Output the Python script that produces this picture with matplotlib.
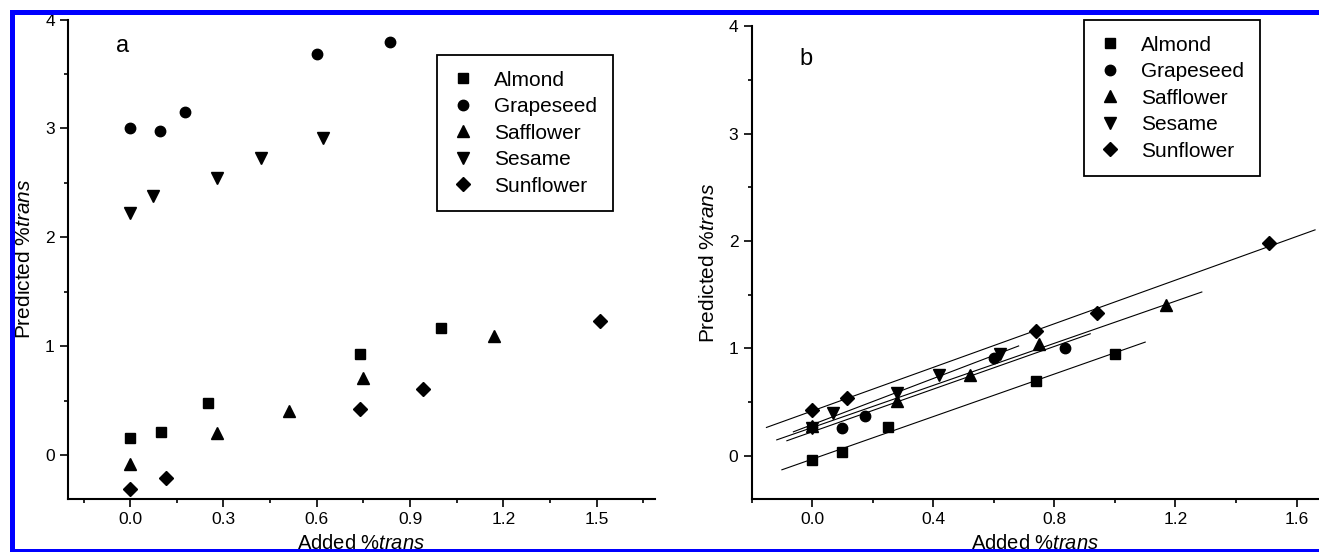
import numpy as np
import matplotlib
matplotlib.use("Agg")
import matplotlib.pyplot as plt
from matplotlib.ticker import MultipleLocator
from matplotlib.patches import Rectangle

plt.rcParams['font.family'] = ['Liberation Sans', 'DejaVu Sans']
plt.rcParams['mathtext.fontset'] = 'custom'
plt.rcParams['mathtext.rm'] = 'Liberation Sans'
plt.rcParams['mathtext.it'] = 'Liberation Sans:italic'

oils = ['Almond', 'Grapeseed', 'Safflower', 'Sesame', 'Sunflower']
markers = ['s', 'o', '^', 'v', 'D']
msizes = [6.5, 7.5, 8.5, 8.5, 7.5]

# panel a: before correction
added_a = {
    'Almond': [0.0, 0.10, 0.25, 0.74, 1.00],
    'Grapeseed': [0.0, 0.095, 0.176, 0.60, 0.835],
    'Safflower': [0.0, 0.28, 0.51, 0.75, 1.17],
    'Sesame': [0.0, 0.072, 0.28, 0.42, 0.62],
    'Sunflower': [0.0, 0.115, 0.74, 0.94, 1.51],
}
pred_a = {
    'Almond': [0.155, 0.21, 0.48, 0.93, 1.17],
    'Grapeseed': [3.00, 2.98, 3.15, 3.68, 3.79],
    'Safflower': [-0.08, 0.20, 0.40, 0.71, 1.09],
    'Sesame': [2.22, 2.38, 2.54, 2.73, 2.91],
    'Sunflower': [-0.31, -0.21, 0.42, 0.61, 1.23],
}

# panel b: after correction
added_b = {
    'Almond': [0.0, 0.10, 0.25, 0.74, 1.00],
    'Grapeseed': [0.0, 0.097, 0.176, 0.60, 0.835],
    'Safflower': [0.0, 0.28, 0.52, 0.75, 1.17],
    'Sesame': [0.0, 0.07, 0.28, 0.42, 0.62],
    'Sunflower': [0.0, 0.115, 0.74, 0.94, 1.51],
}
pred_b = {
    'Almond': [-0.04, 0.03, 0.27, 0.70, 0.95],
    'Grapeseed': [0.27, 0.26, 0.37, 0.91, 1.00],
    'Safflower': [0.28, 0.51, 0.75, 1.04, 1.40],
    'Sesame': [0.26, 0.40, 0.58, 0.75, 0.95],
    'Sunflower': [0.43, 0.54, 1.16, 1.33, 1.98],
}

xticks_a = [0.0, 0.3, 0.6, 0.9, 1.2, 1.5]
xticks_b = [0.0, 0.4, 0.8, 1.2, 1.6]

W, H = 1319, 552
fig = plt.figure(figsize=(W / 100, H / 100), dpi=100)


def px_box(left, right, top, bottom):
    return [left / W, 1 - bottom / H, (right - left) / W, (bottom - top) / H]


def style_axes(ax, xticks):
    for s in ['top', 'right']:
        ax.spines[s].set_visible(False)
    for s in ['left', 'bottom']:
        ax.spines[s].set_linewidth(1.5)
    step = xticks[1] - xticks[0]
    ax.set_xticks(xticks)
    ax.set_xticklabels([f'{t:.1f}' for t in xticks])
    ax.xaxis.set_minor_locator(MultipleLocator(step / 2))
    ax.yaxis.set_major_locator(MultipleLocator(1))
    ax.yaxis.set_minor_locator(MultipleLocator(0.5))
    ax.tick_params(which='major', direction='out', length=5.5, width=1.2,
                   labelsize=12.5, pad=4)
    ax.tick_params(which='minor', direction='out', length=3, width=1.2)
    ax.set_xlabel('Added %$\\mathit{trans}$', fontsize=14.5, labelpad=5)
    ax.set_ylabel('Predicted %$\\mathit{trans}$', fontsize=15, labelpad=8)


def add_legend(ax, x0, y0):
    leg = ax.legend(loc='upper left', bbox_to_anchor=(x0 / W, 1 - y0 / H),
                    bbox_transform=fig.transFigure, fontsize=15,
                    frameon=True, fancybox=False, framealpha=1,
                    edgecolor='black', borderpad=0.75, handlelength=1.0,
                    handletextpad=1.0, labelspacing=0.36, borderaxespad=0)
    leg.get_frame().set_linewidth(1.3)


# panel a
ax1 = fig.add_axes(px_box(68, 654.5, 19.5, 498.5))
for oil, m, ms in zip(oils, markers, msizes):
    ax1.plot(added_a[oil], pred_a[oil], linestyle='none', marker=m,
             markersize=ms, color='black', label=oil)
style_axes(ax1, xticks_a)
ax1.set_xlim(-0.2, 1.686)
ax1.set_ylim(-0.4, 4.0)
ax1.text(123, H - 52, 'a', transform=None, fontsize=17, ha='center')
add_legend(ax1, 437, 55)

# panel b
ax2 = fig.add_axes(px_box(751.6, 1319, 26.4, 498.6))
for oil, m, ms in zip(oils, markers, msizes):
    x = np.array(added_b[oil])
    y = np.array(pred_b[oil])
    k, b = np.polyfit(x, y, 1)
    ext = 0.1 * (x.max() - x.min())
    xl = np.array([x.min() - ext, x.max() + ext])
    ax2.plot(xl, k * xl + b, color='black', linewidth=0.8)
    ax2.plot(x, y, linestyle='none', marker=m, markersize=ms,
             color='black', label=oil)
style_axes(ax2, xticks_b)
ax2.set_xlim(-0.2, 1.674)
ax2.set_ylim(-0.4, 4.0)
ax2.text(806, H - 65, 'b', transform=None, fontsize=17, ha='center')
add_legend(ax2, 1084, 20)

# screenshot frame: white margin plus blue border on top, left and bottom
fig.add_artist(Rectangle((0, 1 - 10 / H), 1, 10 / H, transform=fig.transFigure,
                         facecolor='white', edgecolor='none', zorder=10))
fig.add_artist(Rectangle((0, 0), 10 / W, 1, transform=fig.transFigure,
                         facecolor='white', edgecolor='none', zorder=10))
blue = '#0000ff'
fig.add_artist(Rectangle((10 / W, 1 - 15 / H), 1, 5 / H, transform=fig.transFigure,
                         facecolor=blue, edgecolor='none', zorder=11))
fig.add_artist(Rectangle((10 / W, 0), 5 / W, 1 - 10 / H, transform=fig.transFigure,
                         facecolor=blue, edgecolor='none', zorder=11))
fig.add_artist(Rectangle((10 / W, 0), 1, 3 / H, transform=fig.transFigure,
                         facecolor=blue, edgecolor='none', zorder=11))

fig.savefig('out.png', dpi=100)
